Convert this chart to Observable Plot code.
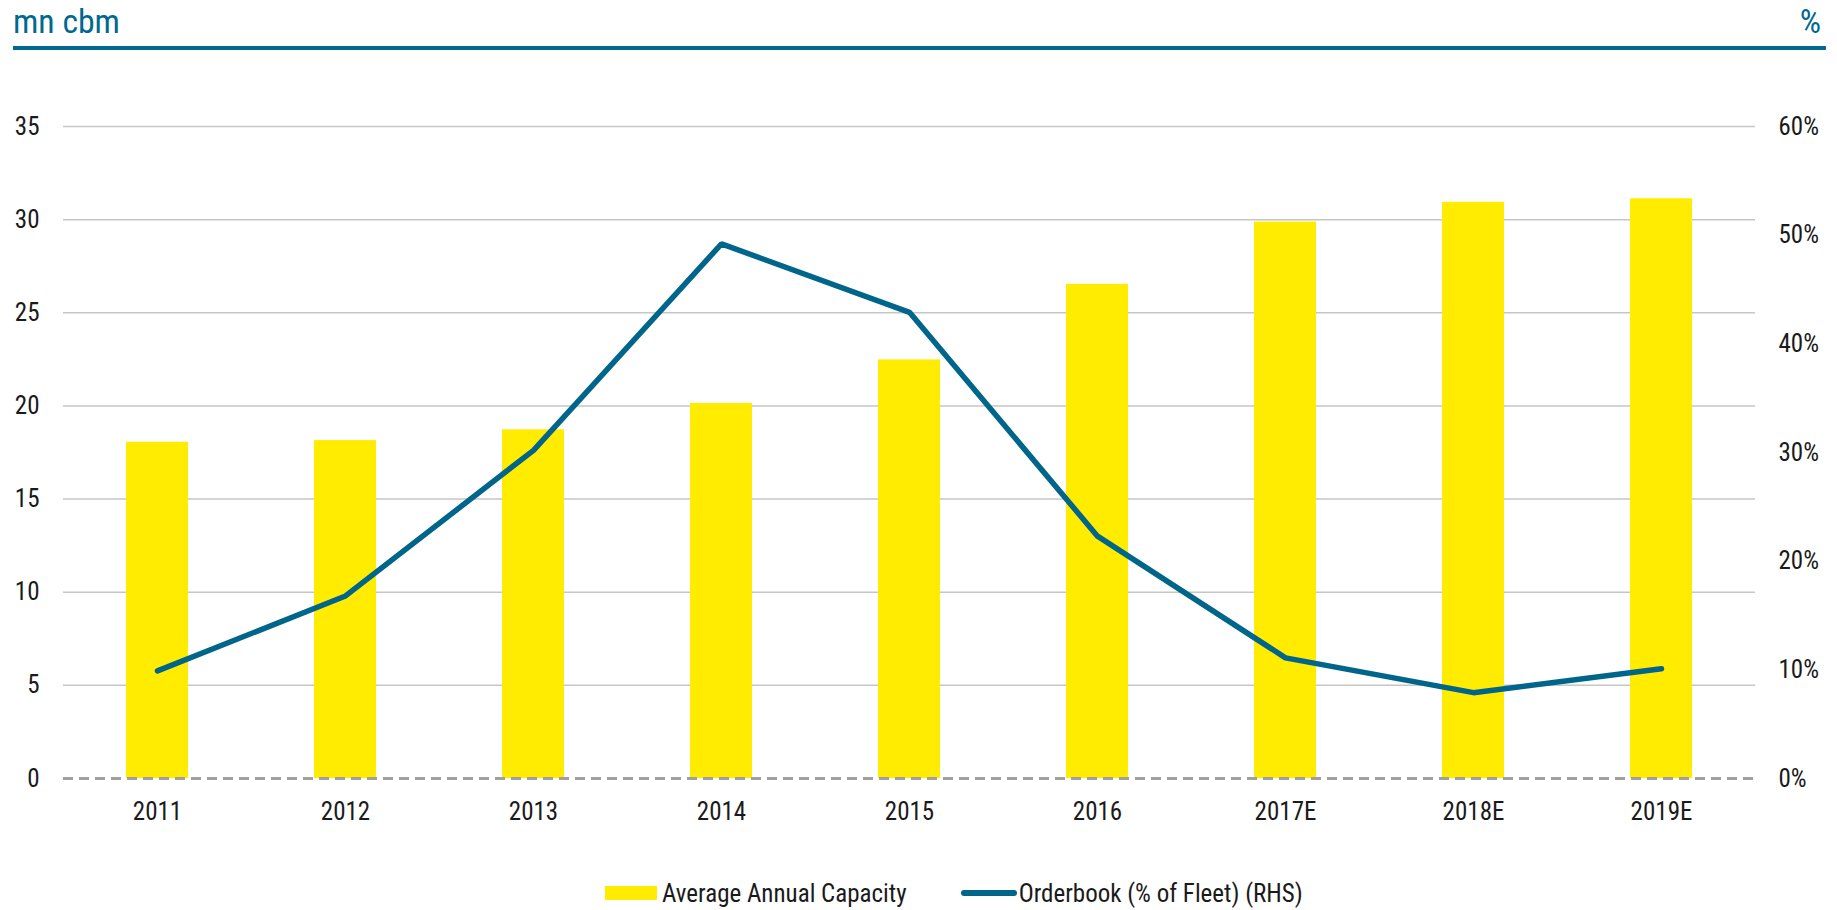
<!DOCTYPE html>
<html>
<head>
<meta charset="utf-8">
<script src="https://cdn.jsdelivr.net/npm/d3@7"></script>
<script src="https://cdn.jsdelivr.net/npm/@observablehq/plot@0.6"></script>
<style>
  html, body { margin: 0; padding: 0; background: #fff; }
  #wrap { position: relative; width: 1837px; height: 910px; overflow: hidden; }
  #title { position: absolute; left: 13px; top: 0; width: 1813px; height: 46px; border-bottom: 4px solid #00698f; color: #00698f; }
  #title span { position: absolute; top: 5px; line-height: 33px; font-size: 33px; }
  #chart { position: absolute; left: 0; top: 60px; }
  #legend { position: absolute; left: 605px; top: 878px; height: 30px; display: flex; align-items: center; color: #1a1a1a; }
  .sw-bar { width: 52px; height: 14px; background: #ffec00; margin-right: 5px; }
  .sw-line { width: 56px; height: 6px; border-radius: 3px; background: #00658a; margin-left: 54px; margin-right: 2px; }
</style>
</head>
<body>
<div id="wrap">
  <div id="title"><span id="tl" style="left:0">mn cbm</span><span id="tr" style="right:5px">%</span></div>
  <div id="chart"></div>
  <div id="legend">
    <div class="sw-bar"></div><div class="lt">Average Annual Capacity</div>
    <div class="sw-line"></div><div class="lt">Orderbook (% of Fleet) (RHS)</div>
  </div>
</div>
<script>
// ---- data ----
const years = ["2011", "2012", "2013", "2014", "2015", "2016", "2017E", "2018E", "2019E"];
const capacity = [18.05, 18.14, 18.72, 20.13, 22.47, 26.53, 29.87, 30.93, 31.12];   // mn cbm
const orderbookPct = [9.9, 16.8, 30.2, 49.2, 42.9, 22.3, 11.1, 7.9, 10.1];          // % of fleet
const leftTicks = [0, 5, 10, 15, 20, 25, 30, 35];
const rightTicks = [0, 10, 20, 30, 40, 50, 60];
const leftMax = 35, rightMax = 60;

const data = years.map((year, i) => ({year, capacity: capacity[i], pct: orderbookPct[i]}));

// ---- font choice ----
function hasFont(name) {
  const ctx = document.createElement("canvas").getContext("2d");
  const s = "Average Annual 2011 Capacity";
  ctx.font = "40px monospace"; const a = ctx.measureText(s).width;
  ctx.font = `40px "${name}", monospace`; const b = ctx.measureText(s).width;
  ctx.font = "40px serif"; const c = ctx.measureText(s).width;
  ctx.font = `40px "${name}", serif`; const d = ctx.measureText(s).width;
  return a !== b || c !== d;
}
const candidates = ["Liberation Sans Narrow", "Arial Narrow", "Roboto Condensed", "DejaVu Sans Condensed", "Liberation Sans"];
const fontName = candidates.find(hasFont) || "sans-serif";
const FONT = `"${fontName}", sans-serif`;
const ctx = document.createElement("canvas").getContext("2d");
ctx.font = `25px ${FONT}`;
const w = ctx.measureText("Average Annual Capacity").width;
const k = Math.min(1, 245 / w);
const fs = 25 * k;

document.getElementById("wrap").style.fontFamily = FONT;
document.querySelectorAll(".lt").forEach(el => el.style.fontSize = fs + "px");
ctx.font = `33px ${FONT}`;
const tw = ctx.measureText("mn cbm").width;
const tfs = Math.min(36, 33 * 107 / tw);
document.querySelectorAll("#title span").forEach(el => el.style.fontSize = tfs + "px");

// ---- chart ----
const toLeft = v => v * leftMax / rightMax;
const blue = "#00658a";

const chart = Plot.plot({
  width: 1837,
  height: 790,
  marginTop: 66,
  marginBottom: 72,
  marginLeft: 63,
  marginRight: 82,
  style: {fontFamily: FONT, fontSize: fs + "px", color: "#1a1a1a", background: "transparent"},
  x: {domain: years, paddingInner: 0.67, paddingOuter: 0.335},
  y: {domain: [0, leftMax]},
  marks: [
    Plot.ruleY(leftTicks.filter(d => d > 0), {stroke: "#c6c6c6", strokeWidth: 1.5}),
    Plot.barY(data, {x: "year", y: "capacity", fill: "#ffec00"}),
    Plot.ruleY([0], {stroke: "#a0a0a0", strokeWidth: 3, strokeDasharray: "10,6"}),
    Plot.line(data, {x: "year", y: d => toLeft(d.pct), stroke: blue, strokeWidth: 5.5, strokeLinecap: "round", strokeLinejoin: "miter"}),
    Plot.axisX({tickSize: 0, tickPadding: 24, fontSize: fs, label: null}),
    Plot.axisY({anchor: "left", ticks: leftTicks, tickSize: 0, tickPadding: 24, tickFormat: d => String(d), fontSize: fs, label: null}),
    Plot.axisY({anchor: "right", ticks: rightTicks.map(toLeft), tickSize: 0, tickPadding: 23, tickFormat: d => Math.round(d * rightMax / leftMax) + "%", textAnchor: "start", fontSize: fs, label: null})
  ]
});
document.getElementById("chart").appendChild(chart);
</script>
</body>
</html>
